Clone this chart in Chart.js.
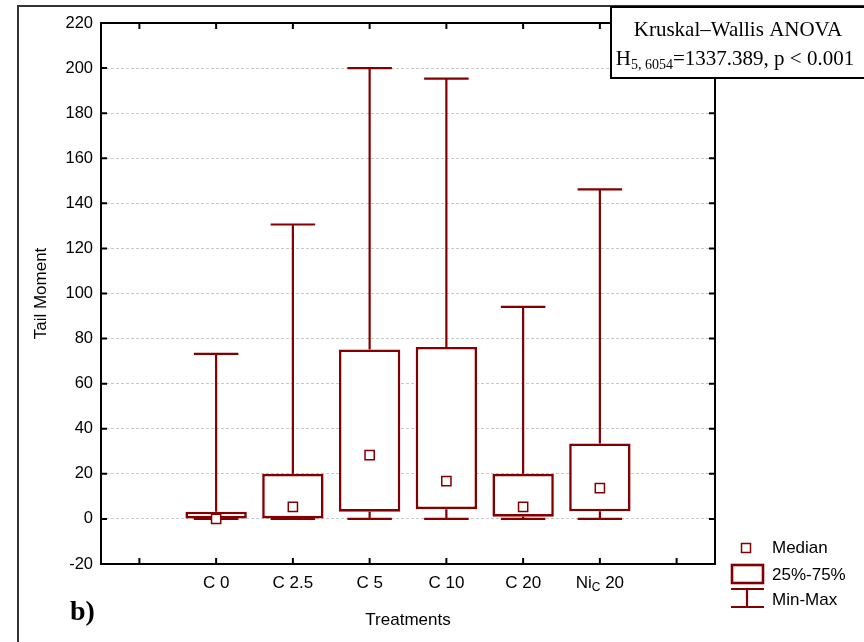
<!DOCTYPE html>
<html>
<head>
<meta charset="utf-8">
<script src="https://cdn.jsdelivr.net/npm/chart.js@4"></script>
<style>
  html, body { margin: 0; padding: 0; background: #fff; }
  canvas { display: block; }
</style>
</head>
<body>
<canvas id="tailChart" width="864" height="642"></canvas>
<script>
// category slots, the first and last are empty (as in the original plot)
const categories = ['', 'C 0', 'C 2.5', 'C 5', 'C 10', 'C 20', 'Ni_C 20', ''];
const mins    = [null, 0, 0, 0, 0, 0, 0, null];
const q1s     = [null, 0, 0, 3.2, 4.3, 1.0, 3.4, null];
const medians = [null, 0, 5.3, 28.3, 16.8, 5.3, 13.7, null];
const q3s     = [null, 3.2, 20, 75.2, 76.3, 20, 33.5, null];
const maxs    = [null, 73.2, 130.6, 200, 195.3, 94.1, 146.2, null];

const yMin = -20;
const yMax = 220;
const yStep = 20;

const legendLabels = ['Median', '25%-75%', 'Min-Max'];
const testTitle = 'Kruskal–Wallis ANOVA';
const testStat = ['H', '5, 6054', '=1337.389, p < 0.001'];
const panelLabel = 'b)';

const darkRed = '#840000';
const sans = '"Liberation Sans", Arial, sans-serif';
const serif = '"Liberation Serif", "Times New Roman", serif';

// draws text like "Ni_C 20" with the char after _ as subscript, centred on cx
const drawSubText = (ctx, text, cx, cy, size) => {
  const parts = [];
  let rest = text;
  while (rest.length) {
    const k = rest.indexOf('_');
    if (k === -1) { parts.push([rest, false]); break; }
    if (k > 0) parts.push([rest.slice(0, k), false]);
    parts.push([rest.charAt(k + 1), true]);
    rest = rest.slice(k + 2);
  }
  const subSize = Math.round(size * 0.7);
  let total = 0;
  parts.forEach(([t, sub]) => {
    ctx.font = (sub ? subSize : size) + 'px ' + sans;
    total += ctx.measureText(t).width;
  });
  let px = cx - total / 2;
  ctx.textAlign = 'left';
  ctx.textBaseline = 'middle';
  parts.forEach(([t, sub]) => {
    ctx.font = (sub ? subSize : size) + 'px ' + sans;
    ctx.fillText(t, px, sub ? cy + 5 : cy);
    px += ctx.measureText(t).width;
  });
};

const boxPlotExtras = {
  id: 'boxPlotExtras',
  beforeDatasetsDraw(chart) {
    const { ctx, scales: { x, y } } = chart;
    const slot = x.getPixelForValue(1) - x.getPixelForValue(0);
    const capHalf = slot * 0.29;
    ctx.save();
    ctx.strokeStyle = darkRed;
    ctx.lineWidth = 2.2;
    categories.forEach((c, i) => {
      if (maxs[i] === null) return;
      const px = x.getPixelForValue(i);
      [[q3s[i], maxs[i]], [q1s[i], mins[i]]].forEach(([from, to]) => {
        const yTo = y.getPixelForValue(to);
        ctx.beginPath();
        ctx.moveTo(px, y.getPixelForValue(from));
        ctx.lineTo(px, yTo);
        ctx.moveTo(px - capHalf, yTo);
        ctx.lineTo(px + capHalf, yTo);
        ctx.stroke();
      });
    });
    ctx.restore();
  },
  afterDraw(chart) {
    const { ctx, chartArea: area, scales: { x, y } } = chart;
    ctx.save();

    // outer figure frame
    ctx.strokeStyle = '#333';
    ctx.lineWidth = 2;
    ctx.strokeRect(18, 6, 1000, 1000);

    // plot frame with inward ticks
    ctx.strokeStyle = '#000';
    ctx.lineWidth = 2;
    ctx.strokeRect(area.left, area.top, area.right - area.left, area.bottom - area.top);
    ctx.beginPath();
    y.ticks.forEach(t => {
      const py = y.getPixelForValue(t.value);
      ctx.moveTo(area.left, py); ctx.lineTo(area.left + 6, py);
      ctx.moveTo(area.right, py); ctx.lineTo(area.right - 6, py);
    });
    categories.forEach((c, i) => {
      const px = x.getPixelForValue(i);
      ctx.moveTo(px, area.top); ctx.lineTo(px, area.top + 6);
      ctx.moveTo(px, area.bottom); ctx.lineTo(px, area.bottom - 6);
    });
    ctx.stroke();

    // category labels
    ctx.fillStyle = '#000';
    categories.forEach((c, i) => {
      if (!c) return;
      drawSubText(ctx, c, x.getPixelForValue(i), area.bottom + 19, 17);
    });

    // legend
    ctx.strokeStyle = darkRed;
    ctx.fillStyle = '#fff';
    ctx.lineWidth = 1.5;
    ctx.fillRect(741.5, 543.5, 9, 9);
    ctx.strokeRect(741.5, 543.5, 9, 9);
    ctx.lineWidth = 2.6;
    ctx.strokeRect(732, 565, 31, 18);
    ctx.lineWidth = 2.2;
    ctx.beginPath();
    ctx.moveTo(731, 589); ctx.lineTo(764, 589);
    ctx.moveTo(747, 589); ctx.lineTo(747, 607);
    ctx.moveTo(731, 607); ctx.lineTo(764, 607);
    ctx.stroke();
    ctx.fillStyle = '#000';
    ctx.font = '17px ' + sans;
    ctx.textAlign = 'left';
    ctx.textBaseline = 'middle';
    [548, 575, 600].forEach((py, k) => ctx.fillText(legendLabels[k], 772, py));

    // test annotation box
    ctx.fillStyle = '#fff';
    ctx.fillRect(611, 7, 300, 71);
    ctx.strokeStyle = '#000';
    ctx.lineWidth = 2;
    ctx.strokeRect(611, 7, 300, 71);
    ctx.fillStyle = '#000';
    ctx.textBaseline = 'alphabetic';
    ctx.textAlign = 'center';
    ctx.font = '21px ' + serif;
    ctx.fillText(testTitle, 738, 36);
    const w0 = ctx.measureText(testStat[0]).width;
    const w2 = ctx.measureText(testStat[2]).width;
    ctx.font = '14px ' + serif;
    const w1 = ctx.measureText(testStat[1]).width;
    const sx = 735 - (w0 + w1 + w2) / 2;
    ctx.textAlign = 'left';
    ctx.font = '21px ' + serif;
    ctx.fillText(testStat[0], sx, 65);
    ctx.font = '14px ' + serif;
    ctx.fillText(testStat[1], sx + w0, 69);
    ctx.font = '21px ' + serif;
    ctx.fillText(testStat[2], sx + w0 + w1, 65);

    // panel label
    ctx.font = 'bold 28px ' + serif;
    ctx.fillText(panelLabel, 70, 620);

    ctx.restore();
  }
};

new Chart(document.getElementById('tailChart'), {
  type: 'bar',
  data: {
    labels: categories,
    datasets: [
      {
        type: 'line',
        label: legendLabels[0],
        data: medians,
        showLine: false,
        pointStyle: 'rect',
        pointRadius: 6.5,
        pointBackgroundColor: '#fff',
        pointBorderColor: darkRed,
        pointBorderWidth: 1.5,
        order: 0,
      },
      {
        type: 'bar',
        label: legendLabels[1],
        data: categories.map((c, i) => (q1s[i] === null ? null : [q1s[i], q3s[i]])),
        backgroundColor: '#fff',
        borderColor: darkRed,
        borderWidth: 2.6,
        borderSkipped: false,
        barPercentage: 0.8,
        categoryPercentage: 1.0,
        order: 1,
      },
    ],
  },
  options: {
    responsive: false,
    animation: false,
    devicePixelRatio: 1,
    layout: { padding: { left: 0, top: 23, right: 149, bottom: 0 } },
    plugins: {
      legend: { display: false },
      tooltip: { enabled: false },
    },
    scales: {
      x: {
        type: 'category',
        offset: true,
        grid: { display: false },
        border: { display: false },
        ticks: { display: false },
        title: {
          display: true,
          text: 'Treatments',
          color: '#000',
          font: { family: sans, size: 17 },
          padding: { top: 0, bottom: 11 },
        },
        afterFit: (scale) => { scale.height = 78; },
      },
      y: {
        min: yMin,
        max: yMax,
        border: { display: false, dash: [3, 2] },
        grid: {
          drawTicks: false,
          lineWidth: 1,
          color: (c) => (c.tick && c.tick.value >= 0 && c.tick.value <= 200 ? '#c8c8c8' : 'rgba(0,0,0,0)'),
        },
        ticks: {
          stepSize: yStep,
          padding: 8,
          color: '#000',
          font: { family: sans, size: 16.5 },
        },
        title: {
          display: true,
          text: 'Tail Moment',
          color: '#000',
          font: { family: sans, size: 17 },
          padding: { top: 31, bottom: 0 },
        },
        afterFit: (scale) => { scale.width = 101; },
      },
    },
  },
  plugins: [boxPlotExtras],
});
</script>
</body>
</html>
